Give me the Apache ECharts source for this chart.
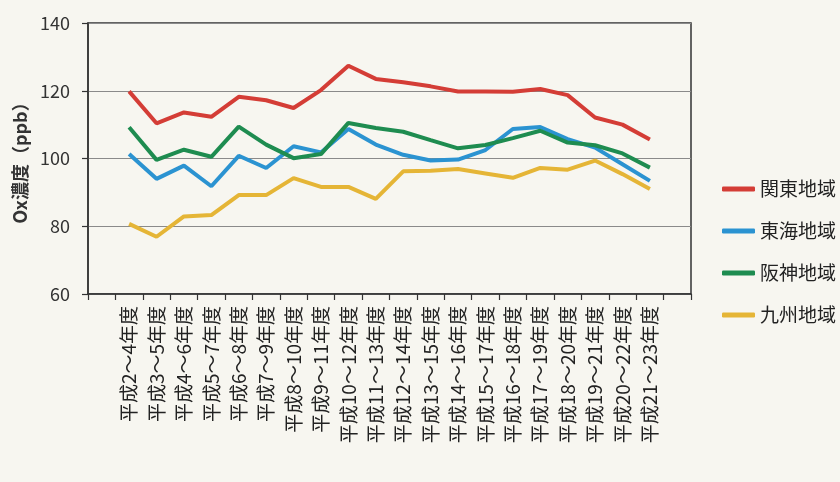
<!DOCTYPE html>
<html>
<head>
<meta charset="utf-8">
<script src="https://cdn.jsdelivr.net/npm/echarts@6/dist/echarts.min.js"></script>
<style>
  html, body { margin: 0; padding: 0; background: #f7f6f0; }
  #chart { width: 840px; height: 482px; }
</style>
</head>
<body>
<div id="chart"></div>
<script>
var categories = ['平成2～4年度', '平成3～5年度', '平成4～6年度', '平成5～7年度', '平成6～8年度',
  '平成7～9年度', '平成8～10年度', '平成9～11年度', '平成10～12年度', '平成11～13年度',
  '平成12～14年度', '平成13～15年度', '平成14～16年度', '平成15～17年度', '平成16～18年度',
  '平成17～19年度', '平成18～20年度', '平成19～21年度', '平成20～22年度', '平成21～23年度']

var kanto = [119.8, 110.4, 113.6, 112.3, 118.2, 117.2, 114.9, 120.2, 127.4, 123.5,
  122.5, 121.3, 119.8, 119.8, 119.7, 120.5, 118.7, 112.1, 110.0, 105.6]
var tokai = [101.3, 94.0, 97.9, 91.8, 100.8, 97.2, 103.6, 101.8, 108.7, 104.1,
  101.1, 99.4, 99.7, 102.5, 108.7, 109.3, 105.7, 103.2, 98.3, 93.4]
var hanshin = [109.2, 99.6, 102.6, 100.5, 109.4, 104.1, 100.1, 101.3, 110.5, 109.0,
  107.9, 105.4, 103.0, 104.0, 106.0, 108.2, 104.7, 103.9, 101.5, 97.3]
var kyushu = [80.7, 76.9, 82.9, 83.3, 89.2, 89.2, 94.2, 91.6, 91.6, 88.1,
  96.2, 96.4, 96.9, 95.6, 94.3, 97.2, 96.7, 99.4, 95.4, 91.0]

var seriesNames = ['関東地域', '東海地域', '阪神地域', '九州地域']
var colors = ['#d43d36', '#2b93d1', '#1e8c50', '#e5b536']
var yTicks = [60, 80, 100, 120, 140]

// empty slot at each end of the category axis, like the original
var axisCats = [''].concat(categories, [''])
function pad(arr) { return [null].concat(arr, [null]) }

var font = '"Noto Sans CJK JP", "Noto Sans", sans-serif'
var chart = echarts.init(document.getElementById('chart'))

var option = {
  backgroundColor: '#f7f6f0',
  animation: false,
  textStyle: { fontFamily: font },
  grid: {
    left: 88, top: 23, right: 149, bottom: 188,
    show: true, borderColor: '#333', borderWidth: 1.5
  },
  legend: {
    orient: 'vertical',
    left: 717,
    top: 174,
    itemWidth: 33,
    itemHeight: 5,
    itemGap: 22,
    icon: 'roundRect',
    data: seriesNames,
    textStyle: { fontSize: 19, color: '#222', lineHeight: 20, fontFamily: font }
  },
  xAxis: {
    type: 'category',
    data: axisCats,
    boundaryGap: true,
    axisLine: { lineStyle: { color: '#333', width: 1.5 } },
    axisTick: { show: true, length: 6, interval: 0, lineStyle: { color: '#333', width: 1.2 } },
    axisLabel: { interval: 0, rotate: 90, margin: 12, fontSize: 19, color: '#222', fontFamily: font }
  },
  yAxis: {
    type: 'value',
    min: yTicks[0],
    max: yTicks[yTicks.length - 1],
    interval: 20,
    name: 'Ox濃度（ppb）',
    nameLocation: 'middle',
    nameRotate: 90,
    nameGap: 58,
    nameTextStyle: { fontSize: 18, fontWeight: 'bold', color: '#333', fontFamily: font },
    axisLine: { show: true, lineStyle: { color: '#333', width: 1.5 } },
    axisTick: { show: true, length: 6, lineStyle: { color: '#333', width: 1.2 } },
    axisLabel: { margin: 18, fontSize: 18, color: '#333', fontFamily: font },
    splitLine: { lineStyle: { color: '#8a8a8a', width: 1.2 } }
  },
  series: seriesNames.map(function (name, i) {
    return {
      name: name,
      type: 'line',
      data: pad([kanto, tokai, hanshin, kyushu][i]),
      symbol: 'none',
      color: colors[i],
      lineStyle: { width: 4, color: colors[i] }
    }
  })
}

chart.setOption(option)
</script>
</body>
</html>
